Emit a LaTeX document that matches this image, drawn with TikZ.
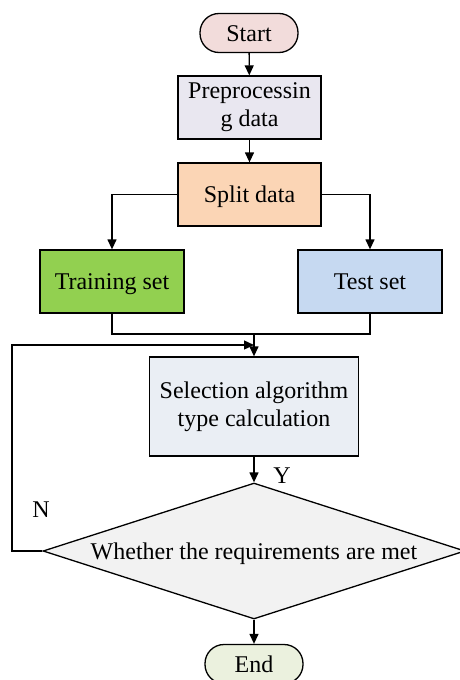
\documentclass[tikz,border=0pt]{standalone}
\usepackage{fontspec}
\setmainfont{Liberation Serif}
\usetikzlibrary{arrows.meta,shapes.geometric}
\definecolor{startc}{HTML}{F2DCDB}
\definecolor{prepc}{HTML}{E9E7F0}
\definecolor{splitc}{HTML}{FBD5B5}
\definecolor{trainc}{HTML}{92D050}
\definecolor{testc}{HTML}{C6D9F1}
\definecolor{selc}{HTML}{EAEEF4}
\definecolor{decc}{HTML}{F2F2F2}
\definecolor{endc}{HTML}{EBF1DE}
\begin{document}
\begin{tikzpicture}[x=1pt,y=-1pt,
  txt/.style={font=\fontsize{24}{28}\selectfont},
  box/.style={txt, draw, line width=1.3pt, inner sep=0pt, align=center},
  oneline/.style={text height=19pt, text depth=3pt},
  term/.style={box, oneline, rounded corners=19pt, minimum width=98pt, minimum height=39pt},
  arr/.style={line width=1.3pt, -{Triangle[length=10pt,width=9pt]}},
  ln/.style={line width=1.3pt}]
\useasboundingbox (0,0) rectangle (459,680);

% process steps
\node[term, fill=startc] (start) at (249,33) {Start};
\node[box, fill=prepc, minimum width=143pt, minimum height=63pt] (prep) at (249.5,107.5) {Preprocessin\\g data};
\node[box, oneline, fill=splitc, minimum width=143pt, minimum height=63pt] (split) at (249.5,194.5) {Split data};
\node[box, oneline, fill=trainc, minimum width=144pt, minimum height=63pt] (train) at (112,281.5) {Training set};
\node[box, oneline, fill=testc, minimum width=144pt, minimum height=63pt] (test) at (370,281.5) {Test set};
\node[box, fill=selc, minimum width=209pt, minimum height=99pt] (sel) at (254,406.5) {Selection algorithm\\type calculation};
\node[box, oneline, shape=diamond, aspect=3.1, fill=decc, minimum width=422pt, minimum height=136pt] (dec) at (254,551) {Whether the requirements are met};
\node[term, fill=endc] (end) at (254,664) {End};

% branch labels
\node[txt] (ylab) at (282,476) {Y};
\node[txt] (nlab) at (41,510) {N};

% connectors
\coordinate (mj) at (254,334);
\coordinate (fb) at (12,345);
\draw[arr] (start) -- (prep);
\draw[arr] (prep) -- (split);
\draw[arr] (split.west) -| (train.north);
\draw[arr] (split.east) -| (test.north);
\draw[ln] (train.south) |- (mj) -| (test.south);
\draw[arr] (mj) -- (sel.north);
\draw[arr] (sel) -- (dec);
\draw[arr] (dec.west) -| (fb) -- (fb -| mj);
\draw[arr] (dec) -- (end);
\end{tikzpicture}
\end{document}
